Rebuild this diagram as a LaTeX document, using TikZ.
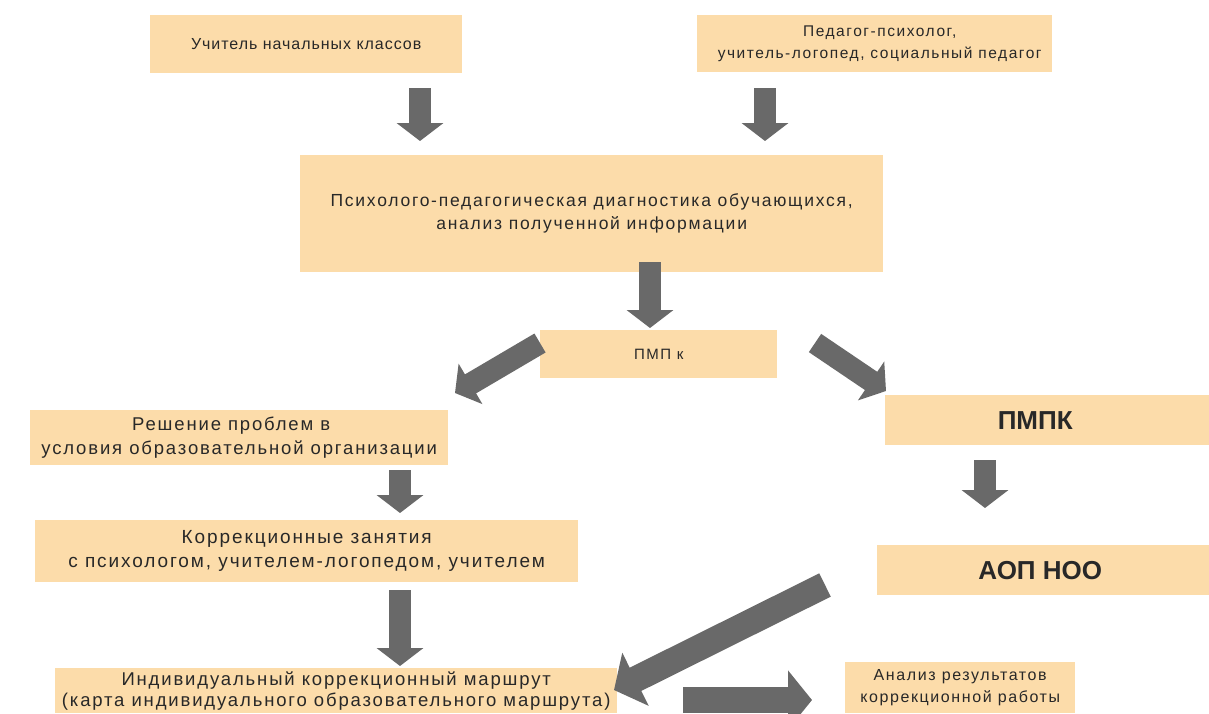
\documentclass[tikz,border=0pt]{standalone}
\usepackage{fontspec}
\setmainfont{Liberation Sans}
\newfontfamily\lblfont[LetterSpace=10]{Liberation Sans}
\newfontfamily\lblfontb[LetterSpace=6]{Liberation Sans}
\usetikzlibrary{arrows.meta}
\definecolor{boxfill}{RGB}{252,220,170}
\definecolor{arrowgray}{RGB}{105,105,105}
\definecolor{txt}{RGB}{40,40,40}
\begin{document}
\begin{tikzpicture}[x=1pt,y=-1pt,
  box/.style={fill=boxfill, draw=none, inner sep=0pt, anchor=north west, align=center, text=txt},
  fs/.style n args={2}{font=\lblfont\fontsize{#1}{#2}\selectfont},
  bold/.style={font=\fontsize{26}{30}\selectfont\bfseries},
  barrow/.style={draw=arrowgray, line width=22pt, -{Triangle[width=46pt,length=18pt]}},
  bigarrow/.style={draw=arrowgray, line width=26pt, -{Triangle[width=58pt,length=24pt]}},
]
\useasboundingbox (0,0) rectangle (1209,713);
\fill[white] (0,0) rectangle (1209,713);

% boxes
\node[box, font=\lblfontb\fontsize{16}{21}\selectfont, minimum width=312, minimum height=58] (b1) at (150,15) {Учитель начальных классов};
\node[box, fs={15.5}{22}, minimum width=355, minimum height=57] (b2) at (697,15) {\hspace*{10pt}Педагог-психолог,\\\hspace*{10pt}учитель-логопед, социальный педагог};
\node[box, fs={17.5}{23}, minimum width=583, minimum height=117] (diag) at (300,155) {Психолого-педагогическая диагностика обучающихся,\\анализ полученной информации};
\node[box, fs={15}{18}, minimum width=237, minimum height=48] (pmpks) at (540,330) {ПМП к};
\node[box, fs={18.5}{24}, minimum width=418, minimum height=55] (resh) at (30,410) {Решение проблем в\hspace*{16pt}\\условия образовательной организации};
\node[box, bold, minimum width=324, minimum height=50] (pmpk) at (885,395) {\hspace*{-24pt}ПМПК};
\node[box, fs={19}{24}, minimum width=543, minimum height=62] (korr) at (35,520) {Коррекционные занятия\\с психологом, учителем-логопедом, учителем};
\node[box, bold, minimum width=332, minimum height=50] (aop) at (877,545) {\hspace*{-6pt}АОП НОО};
\node[box, fs={18.5}{21}, minimum width=562, minimum height=45] (ind) at (55,668) {Индивидуальный коррекционный маршрут\\(карта индивидуального образовательного маршрута)};
\node[box, fs={16}{22}, minimum width=230, minimum height=51] (anal) at (845,662) {Анализ результатов\\коррекционной работы};

% arrow end points
\coordinate (a1s) at (420,88);  \coordinate (a1e) at (420,141);
\coordinate (a2s) at (765,88);  \coordinate (a2e) at (765,141);
\coordinate (a3s) at (650,262); \coordinate (a3e) at (650,328);
\coordinate (a4s) at (540,343); \coordinate (a4e) at (455,393);
\coordinate (a5s) at (815,343); \coordinate (a5e) at (886,391);
\coordinate (a6s) at (400,470); \coordinate (a6e) at (400,513);
\coordinate (a7s) at (985,460); \coordinate (a7e) at (985,508);
\coordinate (a8s) at (400,590); \coordinate (a8e) at (400,666);
\coordinate (a9s) at (825,585); \coordinate (a9e) at (614,690);
\coordinate (a10s) at (683,700); \coordinate (a10e) at (812,700);

\draw[barrow] (a1s) -- (a1e);
\draw[barrow] (a2s) -- (a2e);
\draw[barrow] (a3s) -- (a3e);
\draw[barrow] (a4s) -- (a4e);
\draw[barrow] (a5s) -- (a5e);
\draw[barrow] (a6s) -- (a6e);
\draw[barrow] (a7s) -- (a7e);
\draw[barrow] (a8s) -- (a8e);
\draw[bigarrow] (a9s) -- (a9e);
\draw[bigarrow] (a10s) -- (a10e);
\end{tikzpicture}
\end{document}
